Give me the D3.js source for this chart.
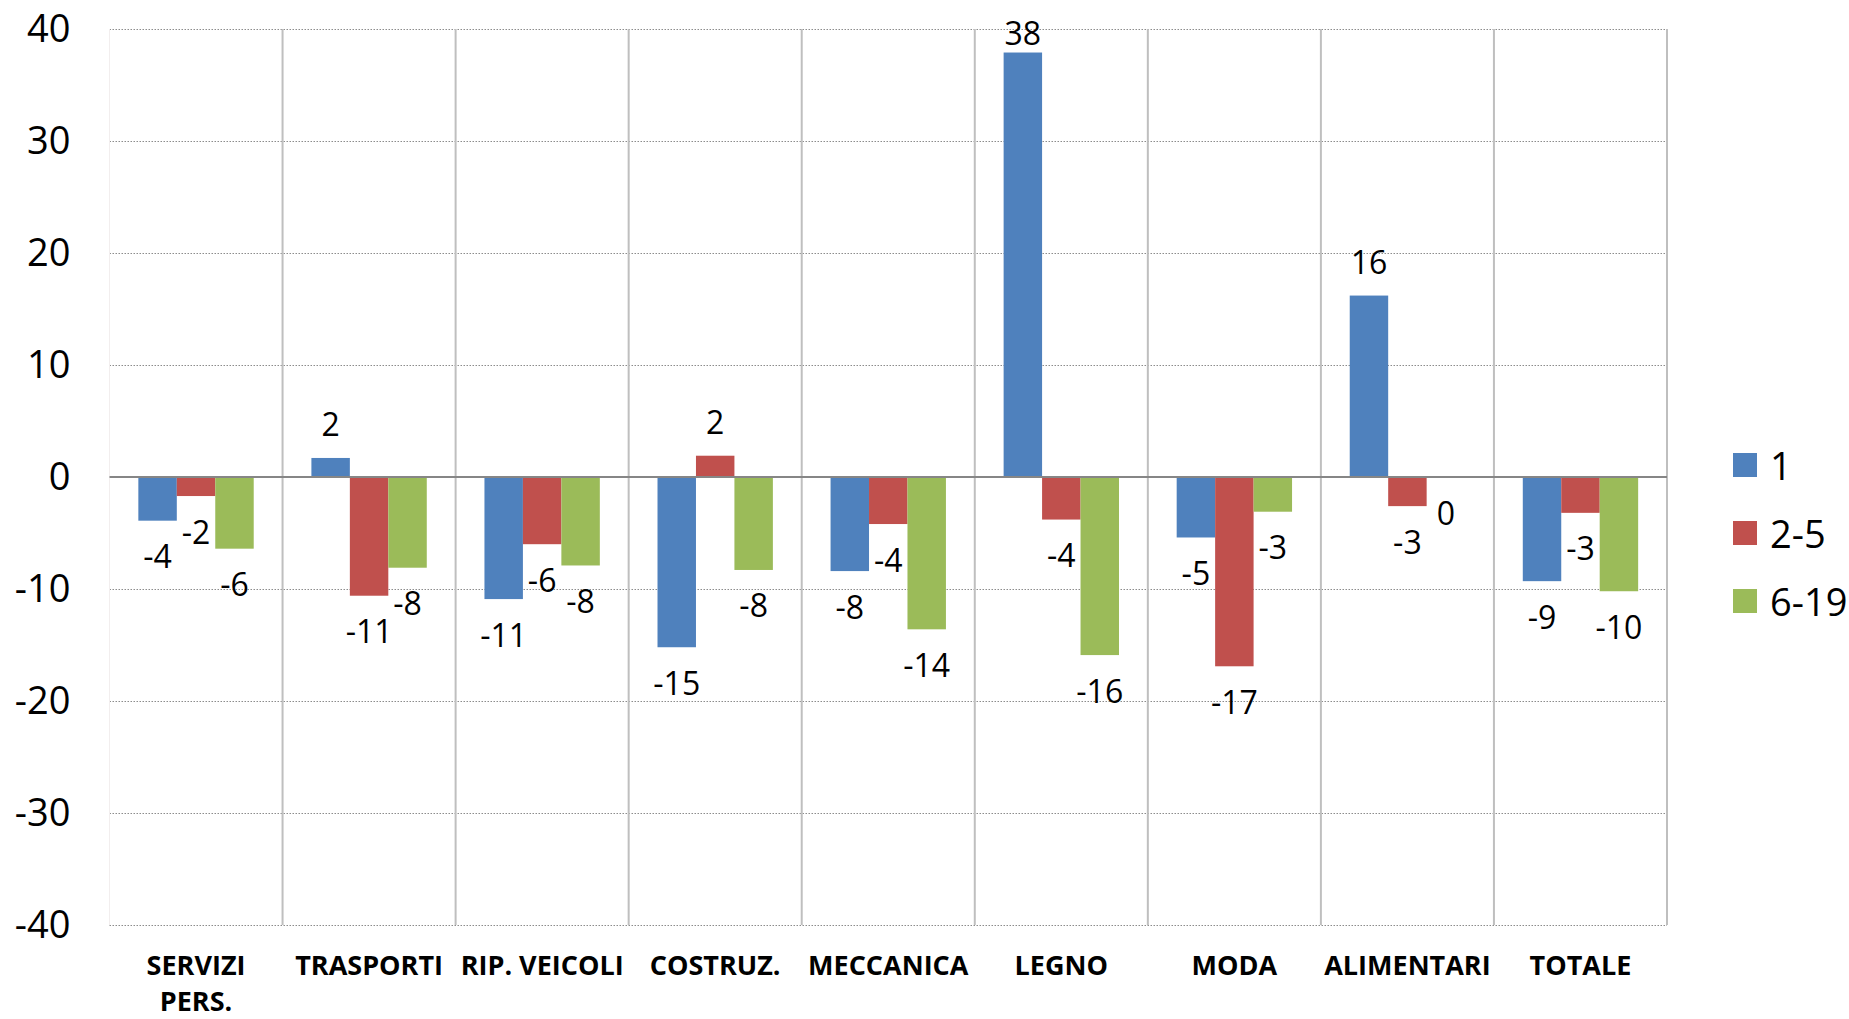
<!DOCTYPE html>
<html>
<head>
<meta charset="utf-8">
<script src="https://cdn.jsdelivr.net/npm/d3@7"></script>
<style>
  body { margin: 0; background: #fff; }
  text { font-family: "Open Sans", "Noto Sans", sans-serif; fill: #000; }
</style>
</head>
<body>
<div id="my_dataviz"></div>
<script>
// chart values
var categories = ["SERVIZI PERS.", "TRASPORTI", "RIP. VEICOLI", "COSTRUZ.", "MECCANICA", "LEGNO", "MODA", "ALIMENTARI", "TOTALE"];
var seriesNames = ["1", "2-5", "6-19"];
var values1   = [-3.9, 1.7, -10.9, -15.2, -8.4, 37.9, -5.4, 16.2, -9.3];
var values2_5 = [-1.7, -10.6, -6.0, 1.9, -4.2, -3.8, -16.9, -2.6, -3.2];
var values6_19 = [-6.4, -8.1, -7.9, -8.3, -13.6, -15.9, -3.1, 0.0, -10.2];
var yTicks = [-40, -30, -20, -10, 0, 10, 20, 30, 40];
var colors = ["#4F81BD", "#C0504D", "#9BBB59"];

var allValues = [values1, values2_5, values6_19];

// dimensions
var margin = {top: 29, right: 182, bottom: 94, left: 109.5},
    width = 1849 - margin.left - margin.right,
    height = 1019 - margin.top - margin.bottom;

var svg = d3.select("#my_dataviz")
  .append("svg")
    .attr("width", 1849)
    .attr("height", 1019)
  .append("g")
    .attr("transform", "translate(" + margin.left + "," + margin.top + ")");

// scales
var x0 = d3.scaleBand()
  .domain(categories)
  .range([0, width])
  .padding(0);

var x1 = d3.scaleBand()
  .domain(seriesNames)
  .range([0, x0.bandwidth()])
  .paddingInner(0)
  .paddingOuter(0.75);

var y = d3.scaleLinear()
  .domain([-40, 40])
  .range([height, 0]);

// horizontal dotted gridlines
svg.append("g")
  .attr("class", "grid")
  .call(d3.axisLeft(y).tickValues(yTicks).tickSize(-width).tickFormat(""))
  .call(function(g) { g.select(".domain").remove(); })
  .selectAll("line")
    .attr("stroke", "#8c8c8c")
    .attr("stroke-width", 1)
    .attr("stroke-dasharray", "1.5,1.5");

// vertical separators between categories
svg.append("g")
  .selectAll("line")
  .data(categories)
  .enter().append("line")
    .attr("x1", function(d) { return x0(d) + x0.bandwidth(); })
    .attr("x2", function(d) { return x0(d) + x0.bandwidth(); })
    .attr("y1", 0)
    .attr("y2", height)
    .attr("stroke", "#bfbfbf")
    .attr("stroke-width", 2);

// faint left edge
svg.append("line")
  .attr("x1", 0).attr("x2", 0)
  .attr("y1", 0).attr("y2", height)
  .attr("stroke", "#f2eeee")
  .attr("stroke-width", 1);

// Y axis labels
svg.append("g")
  .call(d3.axisLeft(y).tickValues(yTicks).tickSize(0).tickPadding(39).tickFormat(function(d) { return String(d); }))
  .call(function(g) { g.select(".domain").remove(); })
  .selectAll("text")
    .style("font-size", "38px")
    .attr("fill", "#000");

// bars
var groups = svg.append("g")
  .selectAll("g")
  .data(categories)
  .enter().append("g")
    .attr("transform", function(d) { return "translate(" + x0(d) + ",0)"; });

var barData = function(d, i) {
  return seriesNames.map(function(s, k) { return {key: s, value: allValues[k][i], idx: k}; });
};

groups.selectAll("rect")
  .data(barData)
  .enter().append("rect")
    .attr("x", function(d) { return x1(d.key); })
    .attr("y", function(d) { return y(Math.max(0, d.value)); })
    .attr("width", x1.bandwidth())
    .attr("height", function(d) { return Math.abs(y(d.value) - y(0)); })
    .attr("fill", function(d) { return colors[d.idx]; });

// zero line
svg.append("line")
  .attr("x1", 0).attr("x2", width)
  .attr("y1", y(0)).attr("y2", y(0))
  .attr("stroke", "#868686")
  .attr("stroke-width", 2);

// value labels
groups.selectAll("text.val")
  .data(barData)
  .enter().append("text")
    .attr("class", "val")
    .attr("x", function(d) { return x1(d.key) + x1.bandwidth() / 2; })
    .attr("y", function(d) {
      return d.value > 0 ? Math.max(y(d.value) - 34, 3) : y(d.value) + 35;
    })
    .attr("text-anchor", "middle")
    .attr("dominant-baseline", "central")
    .style("font-size", "32px")
    .text(function(d) { return String(Math.round(d.value)); });

// X axis labels (wrapped when too wide)
var xAxis = svg.append("g")
  .attr("transform", "translate(0," + height + ")")
  .call(d3.axisBottom(x0).tickSize(0).tickPadding(31))
  .call(function(g) { g.select(".domain").remove(); });

xAxis.selectAll("text")
  .style("font-size", "27px")
  .style("font-weight", "bold")
  .each(function(d) {
    var t = d3.select(this);
    if (this.getComputedTextLength() > x0.bandwidth() - 4) {
      var words = d.split(" ");
      t.text(null);
      words.forEach(function(w, i) {
        t.append("tspan")
          .attr("x", 0)
          .attr("dy", i === 0 ? "0.71em" : "36px")
          .text(w);
      });
      t.attr("dy", null);
    }
  });

// legend
var legend = svg.append("g")
  .attr("transform", "translate(" + (width + 66) + "," + (y(0) - 24) + ")");

var items = legend.selectAll("g")
  .data(seriesNames)
  .enter().append("g")
    .attr("transform", function(d, i) { return "translate(0," + (i * 68) + ")"; });

items.append("rect")
  .attr("width", 24)
  .attr("height", 24)
  .attr("fill", function(d, i) { return colors[i]; });

items.append("text")
  .attr("x", 37)
  .attr("y", 12)
  .attr("dominant-baseline", "central")
  .style("font-size", "38px")
  .text(function(d) { return d; });
</script>
</body>
</html>
